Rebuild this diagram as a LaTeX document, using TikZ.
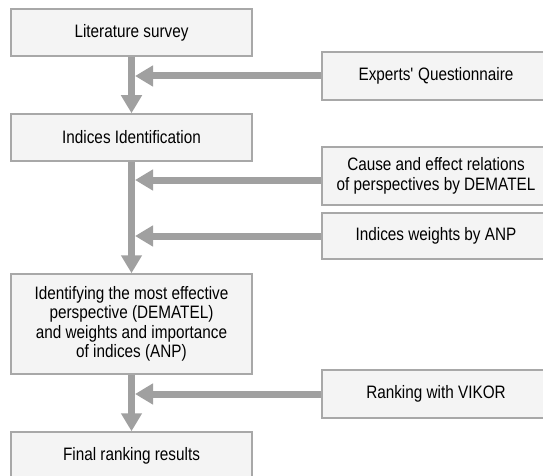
\documentclass[tikz,border=0pt]{standalone}
\usepackage{fontspec}
\setmainfont{Liberation Sans}[FakeStretch=0.85]
\usetikzlibrary{arrows.meta}

\definecolor{boxfill}{HTML}{F4F4F4}
\definecolor{boxline}{HTML}{A8A8A8}
\definecolor{flow}{HTML}{A0A0A0}

\begin{document}
\begin{tikzpicture}[
    x=1pt, y=1pt,
    step box/.style={draw=boxline, fill=boxfill, line width=1.5pt, minimum width=241pt, minimum height=47pt, align=center, font=\fontsize{18}{19.5}\selectfont},
    input box/.style={step box, minimum width=228pt},
    main flow/.style={flow, line width=7pt, -{Triangle[width=20pt, length=18pt]}},
    side flow/.style={main flow, shorten >=3.5pt}
]
    \useasboundingbox (0,0) rectangle (543,475);

    % Main steps
    \node[step box] (lit) at (131.5, 442.5) {Literature survey};
    \node[step box] (ind) at (131.5, 337.5) {Indices Identification};
    \node[step box, minimum height=100pt] (idf) at (131.5, 151) {Identifying the most effective\\ perspective (DEMATEL)\\ and weights and importance\\ of indices (ANP)};
    \node[step box] (fin) at (131.5, 19.5) {Final ranking results};

    % Inputs
    \node[input box, minimum height=48pt] (exp) at (436, 399) {Experts\textquotesingle{} Questionnaire};
    \node[input box, minimum height=58pt] (cau) at (436, 299) {Cause and effect relations\\ of perspectives by DEMATEL};
    \node[input box, minimum height=46pt] (anp) at (436, 239) {Indices weights by ANP};
    \node[input box, minimum height=48pt] (vik) at (436, 81) {Ranking with VIKOR};

    % Trunk
    \draw[main flow] (lit) -- (ind);
    \draw[main flow] (ind) -- (idf);
    \draw[main flow] (idf) -- (fin);

    % Side inputs
    \coordinate (cauin) at ([yshift=-4pt]cau.west);
    \draw[side flow] (exp.west) -- (exp.west -| lit.south);
    \draw[side flow] (cauin) -- (cauin -| lit.south);
    \draw[side flow] (anp.west) -- (anp.west -| lit.south);
    \draw[side flow] (vik.west) -- (vik.west -| lit.south);
\end{tikzpicture}
\end{document}
